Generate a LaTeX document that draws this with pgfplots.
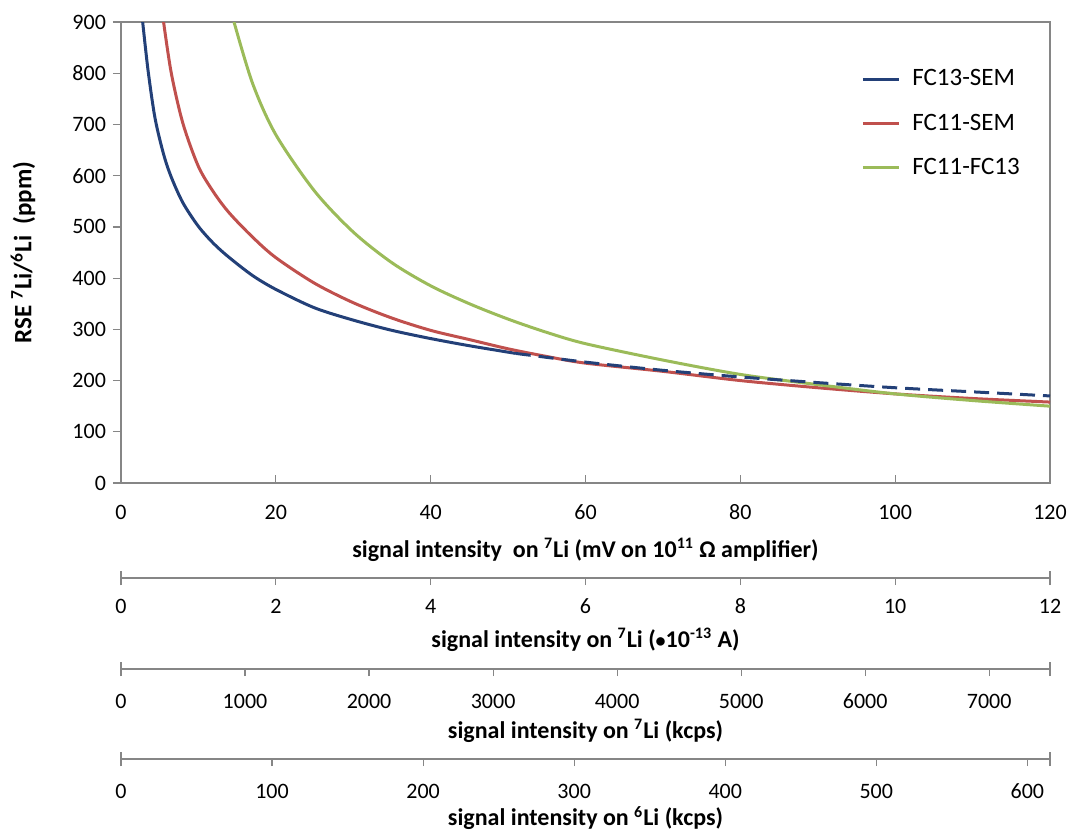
\documentclass[border=0pt]{standalone}
\usepackage{fontspec}
\setmainfont{Carlito}
\usepackage{pgfplots}
\pgfplotsset{compat=1.18}

\definecolor{fcblue}{RGB}{35,64,120}
\definecolor{fcred}{RGB}{192,80,77}
\definecolor{fcgreen}{RGB}{155,187,89}
\definecolor{axgray}{RGB}{134,134,134}

\pgfplotsset{
    every axis/.append style={
        width=464.5pt, scale only axis, anchor=south west,
        axis line style={draw=axgray, line width=0.6pt},
        tick style={draw=axgray, line width=0.6pt},
        ticklabel style={font=\fontsize{11}{13}\selectfont},
        label style={font=\fontsize{12}{14}\selectfont\bfseries},
        /pgf/number format/assume math mode=true,
        /pgf/number format/1000 sep={},
    },
    scalebar/.style={
        height=1pt, ymin=0, ymax=1, ytick=\empty,
        axis y line=none, axis x line*=bottom,
        tick align=outside, major tick length=3.5pt,
        xticklabel style={anchor=center, yshift=-12.75pt},
        xlabel style={at={(axis description cs:0.5,0)}, anchor=center, yshift=-31pt},
        extra x tick style={tick align=center, major tick length=7pt},
        extra x tick labels={},
    },
}

\begin{document}
\begin{tikzpicture}
\useasboundingbox (-60.5pt,-174.5pt) rectangle (474.5pt,241.5pt);

\begin{axis}[
    at={(0,0)},
    height=230.5pt,
    xmin=0, xmax=120,
    ymin=0, ymax=900,
    xtick={0,20,...,120},
    ytick={0,100,...,900},
    xtick pos=bottom, ytick pos=left,
    xtick align=inside, ytick align=outside,
    major tick length=4pt,
    xticklabel style={anchor=center, yshift=-14.5pt},
    xlabel={signal intensity\ \ on \textsuperscript{7}Li (mV on 10\textsuperscript{11} Ω amplifier)},
    xlabel style={at={(axis description cs:0.5,0)}, anchor=center, yshift=-33.5pt},
    ylabel={RSE \textsuperscript{7}Li/\textsuperscript{6}Li\ \ (ppm)},
    ylabel style={at={(axis description cs:-0.1055,0.5)}, anchor=center,
        font=\fontsize{12.5}{14}\selectfont\bfseries},
    legend style={draw=none, fill=none, at={(0.79,0.915)}, anchor=north west,
        row sep=8.5pt, font=\fontsize{12.5}{15}\selectfont,
        /tikz/every odd column/.append style={column sep=4pt}},
    legend cell align=left,
    legend image code/.code={\draw[#1] (0pt,0pt) -- (18pt,0pt);},
]

    \addplot[color=fcblue, line width=1.5pt, smooth] coordinates {
        (2.8,900)(3.5,805)(4.4,712)(5.5,642)(6.5,597)(8,547)(10,501)(12,467)(14,440)
        (17,405)(20,378)(25,342)(30,318)(35,298)(40,282)(45,268)(51,253)
    };
    \addlegendentry{FC13-SEM}
    \addplot[color=fcred, line width=1.5pt, smooth] coordinates {
        (5.5,900)(6.5,800)(8,702)(10,618)(12,567)(14,527)(17,480)(20,440)(25,390)
        (30,352)(35,322)(40,298)(45,280)(50,262)(55,247)(60,234)(70,218)(80,200)
        (90,186)(100,174)(110,165)(120,158)
    };
    \addlegendentry{FC11-SEM}
    \addplot[color=fcgreen, line width=1.5pt, smooth] coordinates {
        (14.6,900)(17,780)(20,680)(25,570)(30,490)(35,430)(40,385)(45,350)(50,320)
        (55,294)(60,272)(70,240)(80,212)(90,192)(100,174)(110,161)(120,150)
    };
    \addlegendentry{FC11-FC13}
    \addplot[color=fcblue, line width=1.5pt, smooth, dash pattern=on 7.5pt off 4pt, forget plot] coordinates {
        (51,253)(60,236)(70,220)(80,207)(90,196)(100,186)(110,178)(120,170)
    };

\end{axis}

\begin{axis}[scalebar, at={(0,-47.5pt)},
    xmin=0, xmax=12, xtick={0,2,...,12}, extra x ticks={0,12},
    xticklabel style={yshift=2.25pt},
    xlabel={signal intensity on \textsuperscript{7}Li ({\fontsize{10}{10}\selectfont •}10\textsuperscript{-13} A)},
]
\end{axis}

\begin{axis}[scalebar, at={(0,-93pt)},
    xmin=0, xmax=7490, xtick={0,1000,...,7000}, extra x ticks={0,7490},
    xlabel={signal intensity on \textsuperscript{7}Li (kcps)},
]
\end{axis}

\begin{axis}[scalebar, at={(0,-138pt)},
    xmin=0, xmax=615, xtick={0,100,...,600}, extra x ticks={0,615},
    xlabel={signal intensity on \textsuperscript{6}Li (kcps)},
    xlabel style={yshift=1.5pt},
]
\end{axis}

\end{tikzpicture}
\end{document}
